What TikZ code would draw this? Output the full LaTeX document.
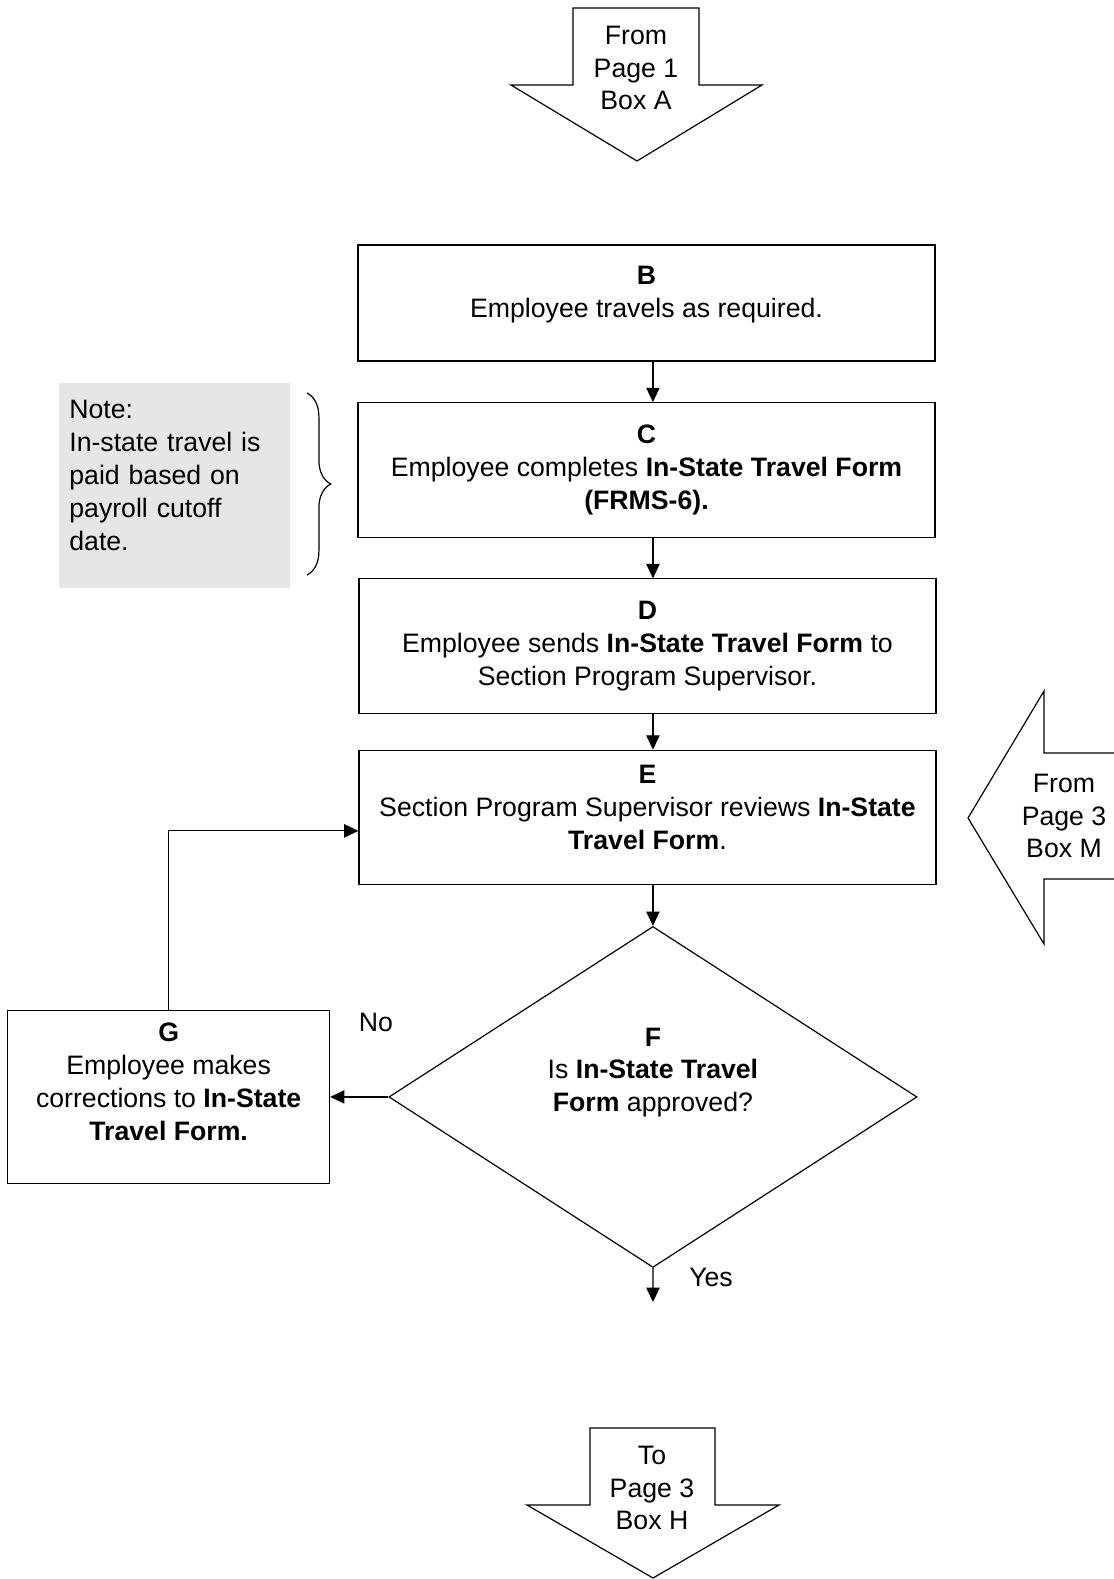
\documentclass[tikz,border=0pt]{standalone}
\usepackage{fontspec}
\setmainfont{Liberation Sans}
\usepackage{xcolor}
\usepackage{tikz}
\usetikzlibrary{shapes.geometric, arrows.meta, positioning, decorations.pathreplacing}
\definecolor{notegray}{RGB}{230,230,230}

\begin{document}
\begin{tikzpicture}[
    x=0.42pt, y=-0.42pt,
    node distance=17pt,
    every node/.style={font=\fontsize{11.2}{13.8}\selectfont},
    block/.style={rectangle, draw, line width=0.5pt, align=center, minimum width=242.3pt, minimum height=56.5pt, inner sep=2pt},
    decision/.style={diamond, draw, line width=0.5pt, align=center, aspect=1.55, minimum width=221.8pt, minimum height=143.2pt, inner sep=0pt},
    note/.style={rectangle, fill=notegray, align=left, minimum width=97pt, minimum height=86.1pt, inner xsep=4.2pt, text width=88.6pt},
    bigarrow/.style={draw, line width=0.5pt, line join=miter},
    arrow/.style={line width=0.5pt, -{Triangle[length=6pt, width=5.6pt]}}
  ]
    \useasboundingbox (0,0) rectangle (1114,1579);

    % Nodes (an empty last line lifts the text towards the top of a box)
    \node (b) [block, minimum height=48.7pt] at (646.5,303) {\textbf{B}\\ Employee travels as required.\\[-4.6pt]\mbox{}};
    \node (c) [block, below=of b] {\textbf{C}\\ Employee completes \textbf{In-State Travel Form}\\ \textbf{(FRMS-6).}};
    \node (d) [block, below=of c, xshift=0.4pt] {\textbf{D}\\ Employee sends \textbf{In-State Travel Form} to\\ Section Program Supervisor.};
    \node (e) [block, below=15pt of d] {\textbf{E}\\ Section Program Supervisor reviews \textbf{In-State}\\ \textbf{Travel Form}.\\[-5.4pt]\mbox{}};
    \node (f) [decision, below=of e, xshift=2.3pt] {\textbf{F}\\ Is \textbf{In-State Travel}\\ \textbf{Form} approved?\\[9pt]\mbox{}};
    \node (g) [block, left=24.4pt of f, minimum width=135.2pt, minimum height=72.7pt] {\textbf{G}\\ Employee makes\\ corrections to \textbf{In-State}\\ \textbf{Travel Form.}\\[-1.2pt]\mbox{}};

    \node (note) [note, left=28pt of c, yshift=-6.5pt] {Note:\\ In-state travel is\\ paid based on\\ payroll cutoff\\ date.\\[-5.4pt]\mbox{}};
    \draw [line width=0.5pt, decorate, decoration={brace, amplitude=10pt}] (307,393) -- (307,575);

    \node (no) at (376,1022) {No};
    \node (yes) at (711,1277) {Yes};
    \coordinate (fout) at (653,1302);

    % Off-page arrows
    \draw [bigarrow] (573,8) -- (699,8) -- (699,85) -- (762,85) -- (637,161) -- (511,85) -- (573,85) -- cycle;
    \node (froma) [align=center] at (636,68) {From\\ Page 1\\ Box A};

    \draw [bigarrow] (1114,753) -- (1044,753) -- (1044,691) -- (968,818) -- (1044,944) -- (1044,879) -- (1114,879);
    \node (fromm) [align=center] at (1064,816) {From\\ Page 3\\ Box M};

    \draw [bigarrow] (590,1428) -- (715,1428) -- (715,1505) -- (779,1505) -- (653,1578) -- (527,1505) -- (590,1505) -- cycle;
    \node (toh) [align=center] at (652,1488) {To\\ Page 3\\ Box H};

    % Connections
    \draw [arrow] (b.south -| f.north) -- (c.north -| f.north);
    \draw [arrow] (c.south -| f.north) -- (d.north -| f.north);
    \draw [arrow] (d.south -| f.north) -- (e.north -| f.north);
    \draw [arrow] (e.south -| f.north) -- (f.north);
    \draw [arrow] (f.south) -- (fout);
    \draw [arrow] (f.west) -- (f.west -| g.east);
    \draw [arrow] (g.north) |- ([yshift=-5.6pt]e.west);

  \end{tikzpicture}
\end{document}
